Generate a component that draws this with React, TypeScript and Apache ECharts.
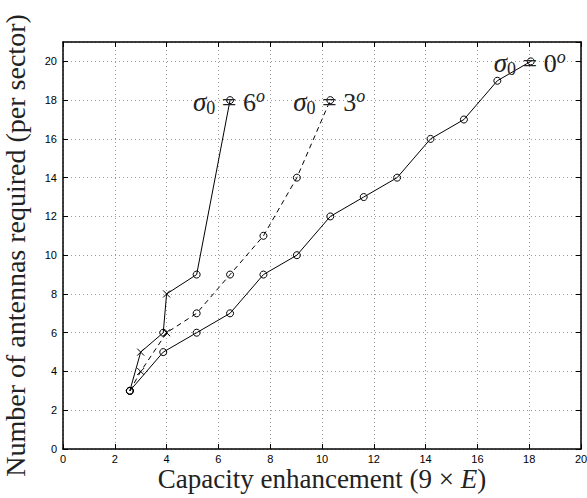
import React, { useEffect, useRef } from "react";
import * as echarts from "echarts";

// sigma0 = 0 deg (solid, circles)
const s0X = [2.58, 3.87, 5.16, 6.45, 7.74, 9.03, 10.32, 11.61, 12.9, 14.19, 15.48, 16.77, 18.06];
const s0Y = [3, 5, 6, 7, 9, 10, 12, 13, 14, 16, 17, 19, 20];
const s0M = ["o", "o", "o", "o", "o", "o", "o", "o", "o", "o", "o", "o", "o"];

// sigma0 = 3 deg (dashed)
const s3X = [2.58, 3, 4, 5.16, 6.45, 7.74, 9.03, 10.32];
const s3Y = [3, 4, 6, 7, 9, 11, 14, 18];
const s3M = ["o", "x", "x", "o", "o", "o", "o", "o"];

// sigma0 = 6 deg (solid)
const s6X = [2.58, 3, 3.87, 4, 5.16, 6.45];
const s6Y = [3, 5, 6, 8, 9, 18];
const s6M = ["o", "x", "o", "x", "o", "o"];

const xTicks = [0, 20, 2]; // min, max, interval
const yTicks = [0, 21, 2];

const seriesNames = ["0", "3", "6"];

const CROSS = "path://M0,0L10,10M10,0L0,10";
const SERIF = "Liberation Serif";
const SANS = "Liberation Sans";

function buildData(xs: number[], ys: number[], ms: string[], labelText: string) {
  return xs.map((x, i) => {
    const item: any = {
      value: [x, ys[i]],
      symbol: ms[i] === "x" ? CROSS : "circle",
      itemStyle: { color: ms[i] === "x" ? "#000" : "transparent", borderColor: "#000", borderWidth: 1 },
    };
    if (i === xs.length - 1) {
      item.label = {
        show: true,
        position: "inside",
        align: "left",
        verticalAlign: "middle",
        offset: [-37, 2],
        formatter: "{s|σ}{sub|0}{e| = " + labelText + "}{sup|o}",
        rich: {
          s: { fontFamily: SERIF, fontStyle: "italic", fontSize: 27, color: "#222", lineHeight: 30 },
          sub: { fontFamily: SERIF, fontSize: 18, color: "#222", verticalAlign: "bottom", lineHeight: 18 },
          e: { fontFamily: SERIF, fontSize: 26, color: "#222", lineHeight: 30 },
          sup: { fontFamily: SERIF, fontStyle: "italic", fontSize: 18, color: "#222", verticalAlign: "top", lineHeight: 18 },
        },
      };
    }
    return item;
  });
}

export default function App() {
  const ref = useRef<HTMLDivElement>(null);
  useEffect(() => {
    document.body.style.margin = "0";
    if (!ref.current) return;
    const chart = echarts.init(ref.current, undefined, { renderer: "svg" });
    const gridLine = { show: true, lineStyle: { color: "#9a9a9a", width: 1, type: [1, 3] as any } };
    const axisLine = { show: true, onZero: false, lineStyle: { color: "#000", width: 1.5 } };
    const tick = { show: true, inside: true, length: 5, lineStyle: { color: "#000", width: 1 } };
    const lineBase = {
      type: "line",
      symbolSize: 7,
      showAllSymbol: true,
      z: 3,
    };
    chart.setOption({
      animation: false,
      backgroundColor: "#fff",
      grid: { left: 63, right: 6, top: 42, bottom: 49, containLabel: false, outerBoundsMode: "none" },
      xAxis: [
        {
          type: "value",
          min: xTicks[0],
          max: xTicks[1],
          interval: xTicks[2],
          position: "bottom",
          axisLine,
          axisTick: tick,
          splitLine: gridLine,
          axisLabel: { color: "#000", fontFamily: SANS, fontSize: 11, lineHeight: 11, margin: 4 },
          name: "{r|Capacity enhancement (9 × }{i|E}{r|)}",
          nameLocation: "middle",
          nameGap: 19,
          nameMoveOverlap: false,
          nameTextStyle: {
            fontFamily: SERIF,
            fontSize: 27,
            color: "#222",
            lineHeight: 22,
            rich: {
              r: { fontFamily: SERIF, fontSize: 27, color: "#222", lineHeight: 22 },
              i: { fontFamily: SERIF, fontSize: 27, color: "#222", fontStyle: "italic", lineHeight: 22 },
            },
          },
        },
        {
          type: "value",
          min: xTicks[0],
          max: xTicks[1],
          interval: xTicks[2],
          position: "top",
          axisLine,
          axisTick: tick,
          splitLine: { show: false },
          axisLabel: { show: false },
        },
      ],
      yAxis: [
        {
          type: "value",
          min: yTicks[0],
          max: yTicks[1],
          interval: yTicks[2],
          position: "left",
          axisLine,
          axisTick: tick,
          splitLine: gridLine,
          axisLabel: { color: "#000", fontFamily: SANS, fontSize: 11, margin: 6, showMaxLabel: false },
          name: "Number of antennas required (per sector)",
          nameLocation: "middle",
          nameGap: 34,
          nameMoveOverlap: false,
          nameTextStyle: { fontFamily: SERIF, fontSize: 28, color: "#222" },
        },
        {
          type: "value",
          min: yTicks[0],
          max: yTicks[1],
          interval: yTicks[2],
          position: "right",
          axisLine,
          axisTick: tick,
          splitLine: { show: false },
          axisLabel: { show: false },
        },
      ],
      series: [
        {
          ...lineBase,
          name: seriesNames[0],
          lineStyle: { color: "#000", width: 1, type: "solid" },
          data: buildData(s0X, s0Y, s0M, "0"),
        },
        {
          ...lineBase,
          name: seriesNames[1],
          lineStyle: { color: "#000", width: 1, type: [5, 4] },
          data: buildData(s3X, s3Y, s3M, "3"),
        },
        {
          ...lineBase,
          name: seriesNames[2],
          lineStyle: { color: "#000", width: 1, type: "solid" },
          data: buildData(s6X, s6Y, s6M, "6"),
        },
      ],
    });
    return () => chart.dispose();
  }, []);
  return <div ref={ref} style={{ width: 587, height: 498 }} />;
}
